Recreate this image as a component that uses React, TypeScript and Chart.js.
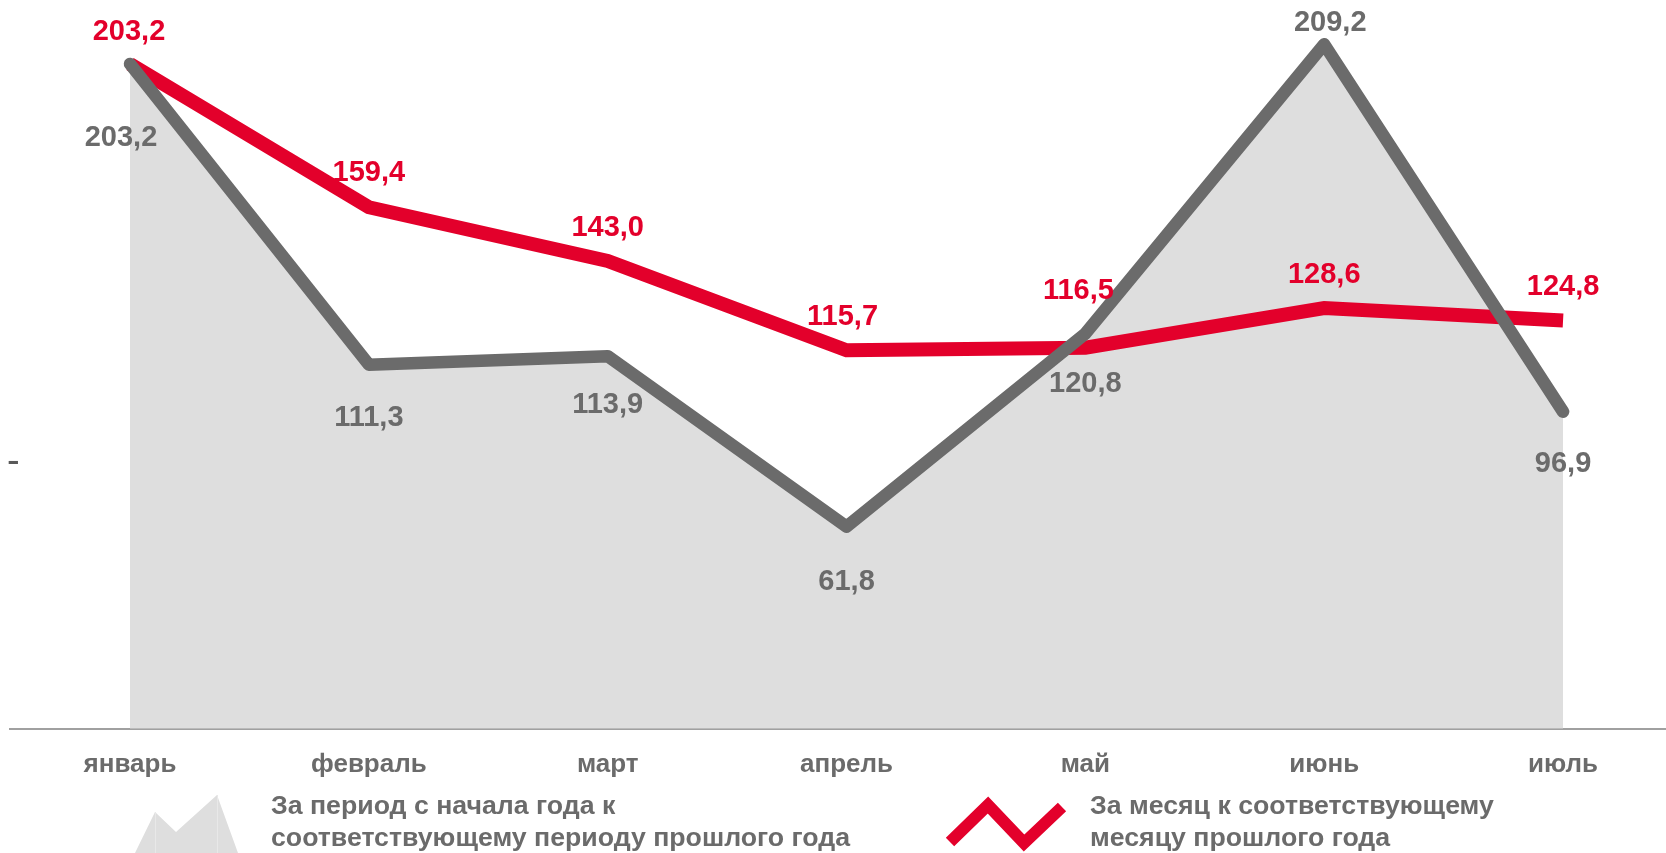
import React, { useEffect, useRef } from 'react';
import { Chart, registerables } from 'chart.js';

Chart.register(...registerables);

// ---- data ----
const months = ['январь', 'февраль', 'март', 'апрель', 'май', 'июнь', 'июль'];
const ytdValues = [203.2, 111.3, 113.9, 61.8, 120.8, 209.2, 96.9];
const monthValues = [203.2, 159.4, 143.0, 115.7, 116.5, 128.6, 124.8];
const yTickValues = [81.5];
const yTickLabels = ['-'];
const ytdLegend = ['За период с начала года к', 'соответствующему периоду прошлого года'];
const monthLegend = ['За месяц к соответствующему', 'месяцу прошлого года'];

// ---- styles ----
const RED = '#E3002B';
const GREY_LINE = '#6B6B6B';
const GREY_FILL = '#DEDEDE';
const TEXT = '#6B6B6B';
const FONT = "'Liberation Sans', Arial, sans-serif";
// label offsets relative to the point (dx, dy)
const ytdLabelOffsets = [[-9, 74], [0, 53], [0, 49], [0, 55], [0, 50], [6, -21], [0, 52]];
const monthLabelOffsets = [[-1, -32], [0, -34], [0, -33], [-4, -33], [-7, -57], [0, -33], [0, -33]];

const fmt = (v: number) => v.toFixed(1).replace('.', ',');

const labelsPlugin = {
  id: 'valueLabels',
  afterDatasetsDraw(chart: any) {
    const ctx = chart.ctx;
    ctx.save();
    ctx.font = `bold 29px ${FONT}`;
    ctx.textAlign = 'center';
    ctx.textBaseline = 'middle';
    const sets = [
      { idx: 0, values: ytdValues, offs: ytdLabelOffsets, color: TEXT },
      { idx: 1, values: monthValues, offs: monthLabelOffsets, color: RED },
    ];
    sets.forEach((s) => {
      const meta = chart.getDatasetMeta(s.idx);
      meta.data.forEach((pt: any, i: number) => {
        ctx.fillStyle = s.color;
        ctx.fillText(fmt(s.values[i]), pt.x + s.offs[i][0], pt.y + s.offs[i][1]);
      });
    });
    ctx.restore();
  },
};

const legendPlugin = {
  id: 'customLegend',
  afterDraw(chart: any) {
    const ctx = chart.ctx;
    ctx.save();
    // area icon
    ctx.fillStyle = GREY_FILL;
    ctx.beginPath();
    ctx.moveTo(135, 853);
    ctx.lineTo(155, 812);
    ctx.lineTo(176, 832);
    ctx.lineTo(217, 795);
    ctx.lineTo(238, 853);
    ctx.closePath();
    ctx.fill();
    ctx.strokeStyle = '#E8E8E8';
    ctx.lineWidth = 1;
    ctx.beginPath();
    ctx.moveTo(155.5, 812);
    ctx.lineTo(155.5, 853);
    ctx.moveTo(217.5, 795);
    ctx.lineTo(217.5, 853);
    ctx.stroke();
    // line icon
    ctx.strokeStyle = RED;
    ctx.lineWidth = 12;
    ctx.lineCap = 'butt';
    ctx.lineJoin = 'miter';
    ctx.beginPath();
    ctx.moveTo(950, 842);
    ctx.lineTo(988, 805);
    ctx.lineTo(1024, 843);
    ctx.lineTo(1062, 807);
    ctx.stroke();
    // texts
    ctx.fillStyle = TEXT;
    ctx.font = `bold 26.7px ${FONT}`;
    ctx.textAlign = 'left';
    ctx.textBaseline = 'alphabetic';
    ytdLegend.forEach((t, i) => ctx.fillText(t, 271, 814 + i * 32));
    monthLegend.forEach((t, i) => ctx.fillText(t, 1090, 814 + i * 32));
    ctx.restore();
  },
};

export default function App() {
  const ref = useRef<HTMLCanvasElement>(null);
  useEffect(() => {
    if (!ref.current) return;
    const chart = new Chart(ref.current, {
      type: 'line',
      data: {
        datasets: [
          {
            label: ytdLegend.join(' '),
            data: ytdValues.map((v, i) => ({ x: i, y: v })),
            borderColor: GREY_LINE,
            backgroundColor: GREY_FILL,
            borderWidth: 12.5,
            borderCapStyle: 'round',
            borderJoinStyle: 'round',
            fill: 'origin',
            pointRadius: 0,
            tension: 0,
          },
          {
            label: monthLegend.join(' '),
            data: monthValues.map((v, i) => ({ x: i, y: v })),
            borderColor: RED,
            backgroundColor: RED,
            borderWidth: 14,
            borderCapStyle: 'butt',
            borderJoinStyle: 'miter',
            fill: false,
            pointRadius: 0,
            tension: 0,
          },
        ],
      },
      options: {
        responsive: false,
        animation: false,
        layout: { padding: { left: 10, right: 0, top: 9, bottom: 61 } },
        plugins: {
          legend: { display: false },
          tooltip: { enabled: false },
          filler: { drawTime: 'beforeDatasetsDraw' },
        },
        scales: {
          x: {
            type: 'linear',
            min: -0.5025,
            max: 6.431,
            grid: { display: false },
            border: { display: true, color: '#A0A0A0', width: 2 },
            afterBuildTicks: (s: any) => {
              s.ticks = months.map((_, i) => ({ value: i }));
            },
            afterFit: (s: any) => {
              s.paddingLeft = 0;
              s.paddingRight = 0;
            },
            ticks: {
              autoSkip: false,
              maxRotation: 0,
              padding: 12,
              color: TEXT,
              font: { family: FONT, size: 26, weight: 'bold' },
              callback: (v: any) => months[v],
            },
          },
          y: {
            type: 'linear',
            min: 0,
            max: 220,
            grid: { display: false },
            border: { display: false },
            afterFit: (s: any) => {
              s.width = 0;
              s.paddingTop = 0;
              s.paddingBottom = 0;
              s.paddingLeft = 0;
              s.paddingRight = 0;
            },
            afterBuildTicks: (s: any) => {
              s.ticks = yTickValues.map((v) => ({ value: v }));
            },
            ticks: {
              mirror: true,
              padding: -3,
              color: '#595959',
              font: { family: FONT, size: 38, weight: 'normal' },
              callback: (_v: any, i: number) => yTickLabels[i],
            },
          },
        },
      },
      plugins: [labelsPlugin, legendPlugin],
    } as any);
    return () => chart.destroy();
  }, []);
  return (
    <div style={{ position: 'fixed', left: 0, top: 0, width: 1666, height: 853, background: '#fff' }}>
      <canvas ref={ref} width={1666} height={853} style={{ width: 1666, height: 853, display: 'block' }} />
    </div>
  );
}
